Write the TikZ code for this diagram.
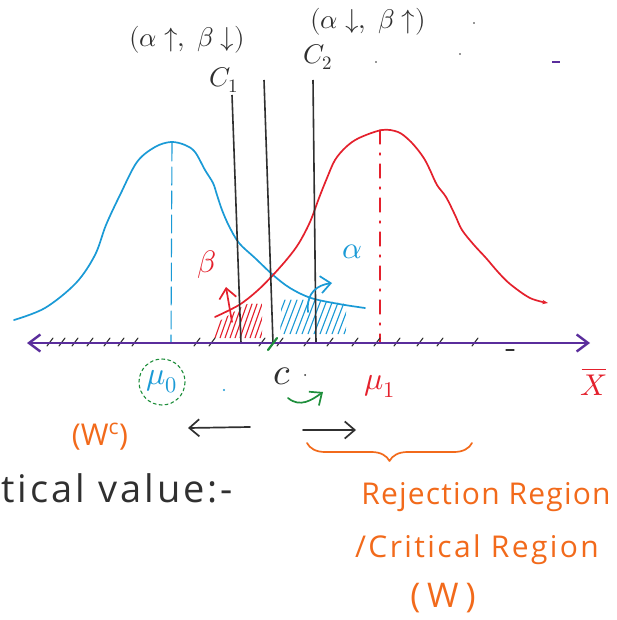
\documentclass[tikz,border=0pt]{standalone}
\usepackage{fontspec}
\usepackage{unicode-math}
\setmainfont{Open Sans}
\usepackage{tikz}
\usetikzlibrary{arrows.meta,decorations.pathreplacing,calc}
\definecolor{axispurple}{HTML}{5A2D9C}
\definecolor{blue}{HTML}{1A9AD6}
\definecolor{red}{HTML}{E4202C}
\definecolor{orange}{HTML}{F26A1B}
\definecolor{green}{HTML}{1F8F3C}
\definecolor{ink}{HTML}{303030}
\tikzset{
  >={Straight Barb[length=3.5mm,width=6mm]},
  pen/.style={line width=1.7pt,line cap=round,line join=round},
  thinpen/.style={line width=1.1pt,line cap=round},
  hand/.style={font=\fontsize{27}{32}\selectfont,inner sep=0pt},
  bighand/.style={font=\fontsize{30}{36}\selectfont\addfontfeatures{LetterSpace=4},inner sep=0pt},
  cline/.style={draw=ink,line width=1.6pt},
  tickmark/.style={draw=ink,line width=1.1pt,line cap=round},
}
\begin{document}
\begin{tikzpicture}[x=1pt,y=-1pt]
  \useasboundingbox[fill=white] (0,0) rectangle (617,620);
  % distributions
  \draw[pen,blue] plot[smooth,tension=0.55] coordinates {(14,320) (45,308) (76,283) (95,255) (106,225)
      (120,195) (137,162) (155,147) (171,142) (185,145) (195,152) (205,170) (213,183) (217,195)
      (222,210) (229,226) (239,243) (255,258) (273,275) (290,288) (311,298) (339,304) (365,308)};
  \draw[pen,red,-{Stealth[length=2mm]}] plot[smooth,tension=0.55] coordinates {(215,317) (239,305) (257,291)
      (273,275) (288,258) (299,243) (310,222) (319,198) (327,178) (335,160) (346,147) (359,138)
      (382,130) (398,132) (409,140) (418,150) (425,160) (430,170) (437,185) (446,197) (455,215)
      (462,230) (474,245) (486,258) (498,272) (510,284) (530,298) (548,303)};
  \draw[thinpen,blue,dash pattern=on 18pt off 6pt] (172,143) -- (171,343);
  \draw[thinpen,red,dash pattern=on 14pt off 9pt on 2pt off 9pt] (380,130) -- (380,343);
  % shaded tails
  \begin{scope}
    \clip (282,292) -- (300,296) -- (320,300) -- (346,304) -- (346,334) -- (280,334) -- cycle;
    \foreach \x in {272,278,...,346}
      \draw[thinpen,blue] (\x,334) -- ++(13,-34);
  \end{scope}
  \begin{scope}
    \clip (218,322) -- (240,308) -- (262,296) -- (262,338) -- (214,338) -- cycle;
    \foreach \x in {205,210,...,262}
      \draw[thinpen,red] (\x,338) -- ++(12,-34);
  \end{scope}
  % critical lines
  \draw[cline] (232,95) -- (241,343);
  \draw[cline] (264,80) -- (273,343);
  \draw[cline] (313,80) -- (316,343);
  % axis
  \foreach \x in {50,62,75,90,107,121,135,197,212,262,280,307,330,355,377,397,420,440,475}
    \draw[tickmark] (\x-3,346) -- (\x+3,338);
  \draw[tickmark] (506,350) -- (514,350);
  \draw[axispurple,line width=2.4pt,{Straight Barb[length=4mm,width=6mm]}-{Straight Barb[length=4mm,width=6mm]}]
    (27,343) -- (590,343);
  \draw[green,line width=2.2pt,line cap=round] (268,350) -- (277,338);
  % labels
  \node[hand,ink] (up) at (187,40) {$(\alpha\uparrow,\ \beta\downarrow)$};
  \node[hand,ink] (down) at (368,22) {$(\alpha\downarrow,\ \beta\uparrow)$};
  \node[hand,ink] (c1) at (224,80) {$C_1$};
  \node[hand,ink] (c2) at (318,57) {$C_2$};
  \node[hand,red,font=\fontsize{31}{36}\selectfont] (beta) at (207,265) {$\beta$};
  \node[hand,blue,font=\fontsize{31}{36}\selectfont] (alpha) at (352,252) {$\alpha$};
  \node[hand,blue,font=\fontsize{32}{36}\selectfont] (mu0) at (162,382) {$\mu_0$};
  \node[hand,ink,font=\fontsize{38}{40}\selectfont] (c) at (282,376) {$c$};
  \node[hand,red,font=\fontsize{32}{36}\selectfont] (mu1) at (380,386) {$\mu_1$};
  \node[hand,red,font=\fontsize{30}{34}\selectfont] (xbar) at (594,385) {$X$};
  \draw[red,line width=1.4pt] ($(xbar.north west)+(1,-5)$) -- ($(xbar.north east)+(-1,-5)$);
  \draw[green,thinpen,dashed] (mu0) circle (23);
  \draw[pen,red,->] (232,322) .. controls (229,305) .. (226,287);
  \draw[pen,blue,->] (308,312) .. controls (306,292) and (318,285) .. (332,283);
  \draw[pen,green,->] (288,398) .. controls (300,408) and (312,400) .. (323,392);
  \coordinate (la1) at (250,427);
  \coordinate (la2) at (188,428);
  \coordinate (ra1) at (303,430);
  \coordinate (ra2) at (356,430);
  \draw[pen,ink,->] (la1) -- (la2);
  \draw[pen,ink,->] (ra1) -- (ra2);
  \node[hand,orange,font=\fontsize{30}{34}\selectfont] (wc) at (100,437) {(W\textsuperscript{c})};
  \node[bighand,ink,anchor=west,font=\fontsize{38}{40}\selectfont\addfontfeatures{LetterSpace=8}] (cv) at (1,488) {tical value:-};
  \coordinate (br1) at (307,443);
  \coordinate (br2) at (472,443);
  \draw[pen,orange,decorate,decoration={brace,mirror,amplitude=18pt}] (br1) -- (br2);
  \node[bighand,orange] (rej) at (486,497) {Rejection Region};
  \node[bighand,orange,font=\fontsize{30}{36}\selectfont\addfontfeatures{LetterSpace=8}] (crit) at (477,550) {/Critical Region};
  \node[bighand,orange,font=\fontsize{34}{38}\selectfont\addfontfeatures{LetterSpace=20}] (w) at (443,598) {(W)};
  % stray marks
  \fill[blue] (224,390) circle (1.2);
  \fill[ink] (305,375) circle (1);
  \fill[ink] (376,62) circle (0.8);
  \fill[ink] (460,54) circle (0.8);
  \fill[ink] (474,23) circle (0.8);
  \draw[axispurple,line width=1.2pt] (552,62) -- (560,62);
\end{tikzpicture}
\end{document}
